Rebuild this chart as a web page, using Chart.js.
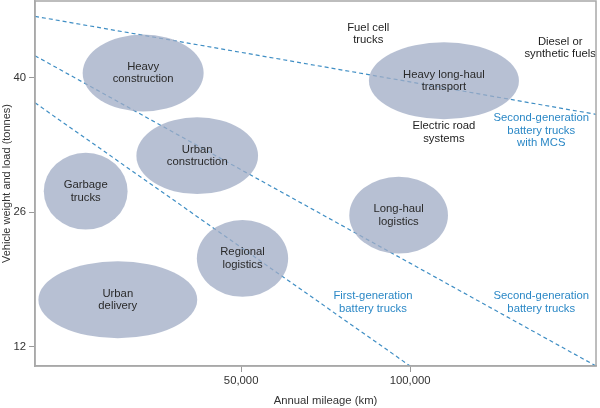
<!DOCTYPE html>
<html>
<head>
<meta charset="utf-8">
<script src="https://cdn.jsdelivr.net/npm/chart.js@4"></script>
<style>
  html, body { margin: 0; padding: 0; background: #fff; }
</style>
</head>
<body>
<canvas id="truckChart" width="600" height="408"></canvas>
<script>
// Truck segments: where they sit in annual mileage vs vehicle weight
const segmentNames = [['Heavy', 'construction'], ['Urban', 'construction'], ['Garbage', 'trucks'], ['Urban', 'delivery'], ['Regional', 'logistics'], ['Heavy long-haul', 'transport'], ['Long-haul', 'logistics']];
const segmentMileage = [21000, 37000, 4000, 13500, 50400, 110000, 96600];
const segmentWeight = [40.5, 31.9, 28.2, 16.9, 21.2, 39.7, 25.7];
const segmentMileageSpread = [17900, 18000, 12400, 23500, 13500, 22200, 14600];
const segmentWeightSpread = [4, 4, 4, 4, 4, 4, 4];

// Battery truck limits (dashed lines), from left edge to where they leave the plot
const boundaryX1 = [-11000, -11000, -11000];
const boundaryY1 = [46.4, 42.3, 37.4];
const boundaryX2 = [155000, 155000, 100000];
const boundaryY2 = [36.2, 10, 10];

// Technology notes
const techLabels = [['Fuel cell', 'trucks'], ['Diesel or', 'synthetic fuels'], ['Electric road', 'systems'], ['Second-generation', 'battery trucks', 'with MCS'], ['First-generation', 'battery trucks'], ['Second-generation', 'battery trucks']];
const techMileage = [87600, 144400, 110000, 138800, 89000, 138800];
const techWeight = [44.6, 43.1, 34.3, 34.5, 16.6, 16.6];
const techIsBattery = [false, false, false, true, true, true];

// Axis ticks
const mileageTicks = [50000, 100000];
const weightTicks = [12, 26, 40];

const FONT = '"Liberation Sans", Arial, Helvetica, sans-serif';
const LINE_BLUE = '#3f8ec4';
const TEXT_BLUE = '#2b88c6';

// ellipses + labels + frame drawn over the dashed lines
const segmentPlugin = {
    id: 'segments',
    afterDatasetsDraw(chart) {
        const { ctx, chartArea, scales } = chart;
        const xs = scales.x, ys = scales.y;
        ctx.save();

        segmentMileage.forEach((m, i) => {
            const cx = xs.getPixelForValue(m);
            const cy = ys.getPixelForValue(segmentWeight[i]);
            const rx = Math.abs(xs.getPixelForValue(m + segmentMileageSpread[i]) - cx);
            const ry = Math.abs(ys.getPixelForValue(segmentWeight[i] + segmentWeightSpread[i]) - cy);
            ctx.beginPath();
            ctx.ellipse(cx, cy, rx, ry, 0, 0, Math.PI * 2);
            ctx.fillStyle = 'rgba(160, 172, 197, 0.76)';
            ctx.fill();
        });

        ctx.font = '11.3px ' + FONT;
        ctx.textAlign = 'center';
        ctx.textBaseline = 'middle';
        ctx.fillStyle = '#2a2a2a';
        segmentNames.forEach((lines, i) => {
            const cx = xs.getPixelForValue(segmentMileage[i]);
            const cy = ys.getPixelForValue(segmentWeight[i]);
            lines.forEach((t, k) => {
                ctx.fillText(t, cx, cy + (k - (lines.length - 1) / 2) * 12.5);
            });
        });

        techLabels.forEach((lines, i) => {
            const cx = xs.getPixelForValue(techMileage[i]);
            const cy = ys.getPixelForValue(techWeight[i]);
            ctx.fillStyle = techIsBattery[i] ? TEXT_BLUE : '#1e1e1e';
            lines.forEach((t, k) => {
                ctx.fillText(t, cx, cy + (k - (lines.length - 1) / 2) * 12.5);
            });
        });

        // x axis title, sits a little right of the plot centre in the original
        ctx.fillStyle = '#333';
        ctx.fillText('Annual mileage (km)', (chartArea.left + chartArea.right) / 2 + 10, 401);

        // box around the plot
        ctx.strokeStyle = '#a8a8a8';
        ctx.lineWidth = 1.5;
        ctx.strokeRect(chartArea.left, chartArea.top, chartArea.right - chartArea.left, chartArea.bottom - chartArea.top);
        ctx.restore();
    }
};

const boundaryData = boundaryX1.map((x, i) => ({
    data: [{ x: x, y: boundaryY1[i] }, { x: boundaryX2[i], y: boundaryY2[i] }],
    showLine: true,
    borderColor: LINE_BLUE,
    borderWidth: 1.2,
    borderDash: [4, 3],
    pointRadius: 0,
    fill: false
}));

new Chart(document.getElementById('truckChart'), {
    type: 'scatter',
    data: { datasets: boundaryData },
    plugins: [segmentPlugin],
    options: {
        responsive: false,
        animation: false,
        layout: { padding: { top: 1, right: 4, left: 0, bottom: 0 } },
        plugins: { legend: { display: false }, tooltip: { enabled: false } },
        scales: {
            x: {
                type: 'linear',
                min: -11000,
                max: 155000,
                afterBuildTicks: (s) => { s.ticks = mileageTicks.map(v => ({ value: v })); },
                afterFit: (s) => { s.height = 42; s.paddingLeft = 0; s.paddingRight = 0; },
                ticks: {
                    color: '#333',
                    font: { family: FONT, size: 11.3 },
                    padding: 2,
                    callback: (v) => v.toLocaleString('en-US')
                },
                grid: { drawOnChartArea: false, drawTicks: true, tickLength: 6, tickColor: '#999' },
                border: { color: '#a8a8a8', width: 1.5 }
            },
            y: {
                type: 'linear',
                min: 10,
                max: 48,
                afterBuildTicks: (s) => { s.ticks = weightTicks.map(v => ({ value: v })); },
                afterFit: (s) => { s.width = 35; s.paddingTop = 0; s.paddingBottom = 0; },
                ticks: {
                    color: '#333',
                    font: { family: FONT, size: 11.3 },
                    padding: 3
                },
                grid: { drawOnChartArea: false, drawTicks: true, tickLength: 6, tickColor: '#999' },
                border: { color: '#a8a8a8', width: 1.5 },
                title: { display: true, text: 'Vehicle weight and load (tonnes)', color: '#333', font: { family: FONT, size: 11 }, padding: { top: 0, bottom: 2 } }
            }
        }
    }
});
</script>
</body>
</html>
